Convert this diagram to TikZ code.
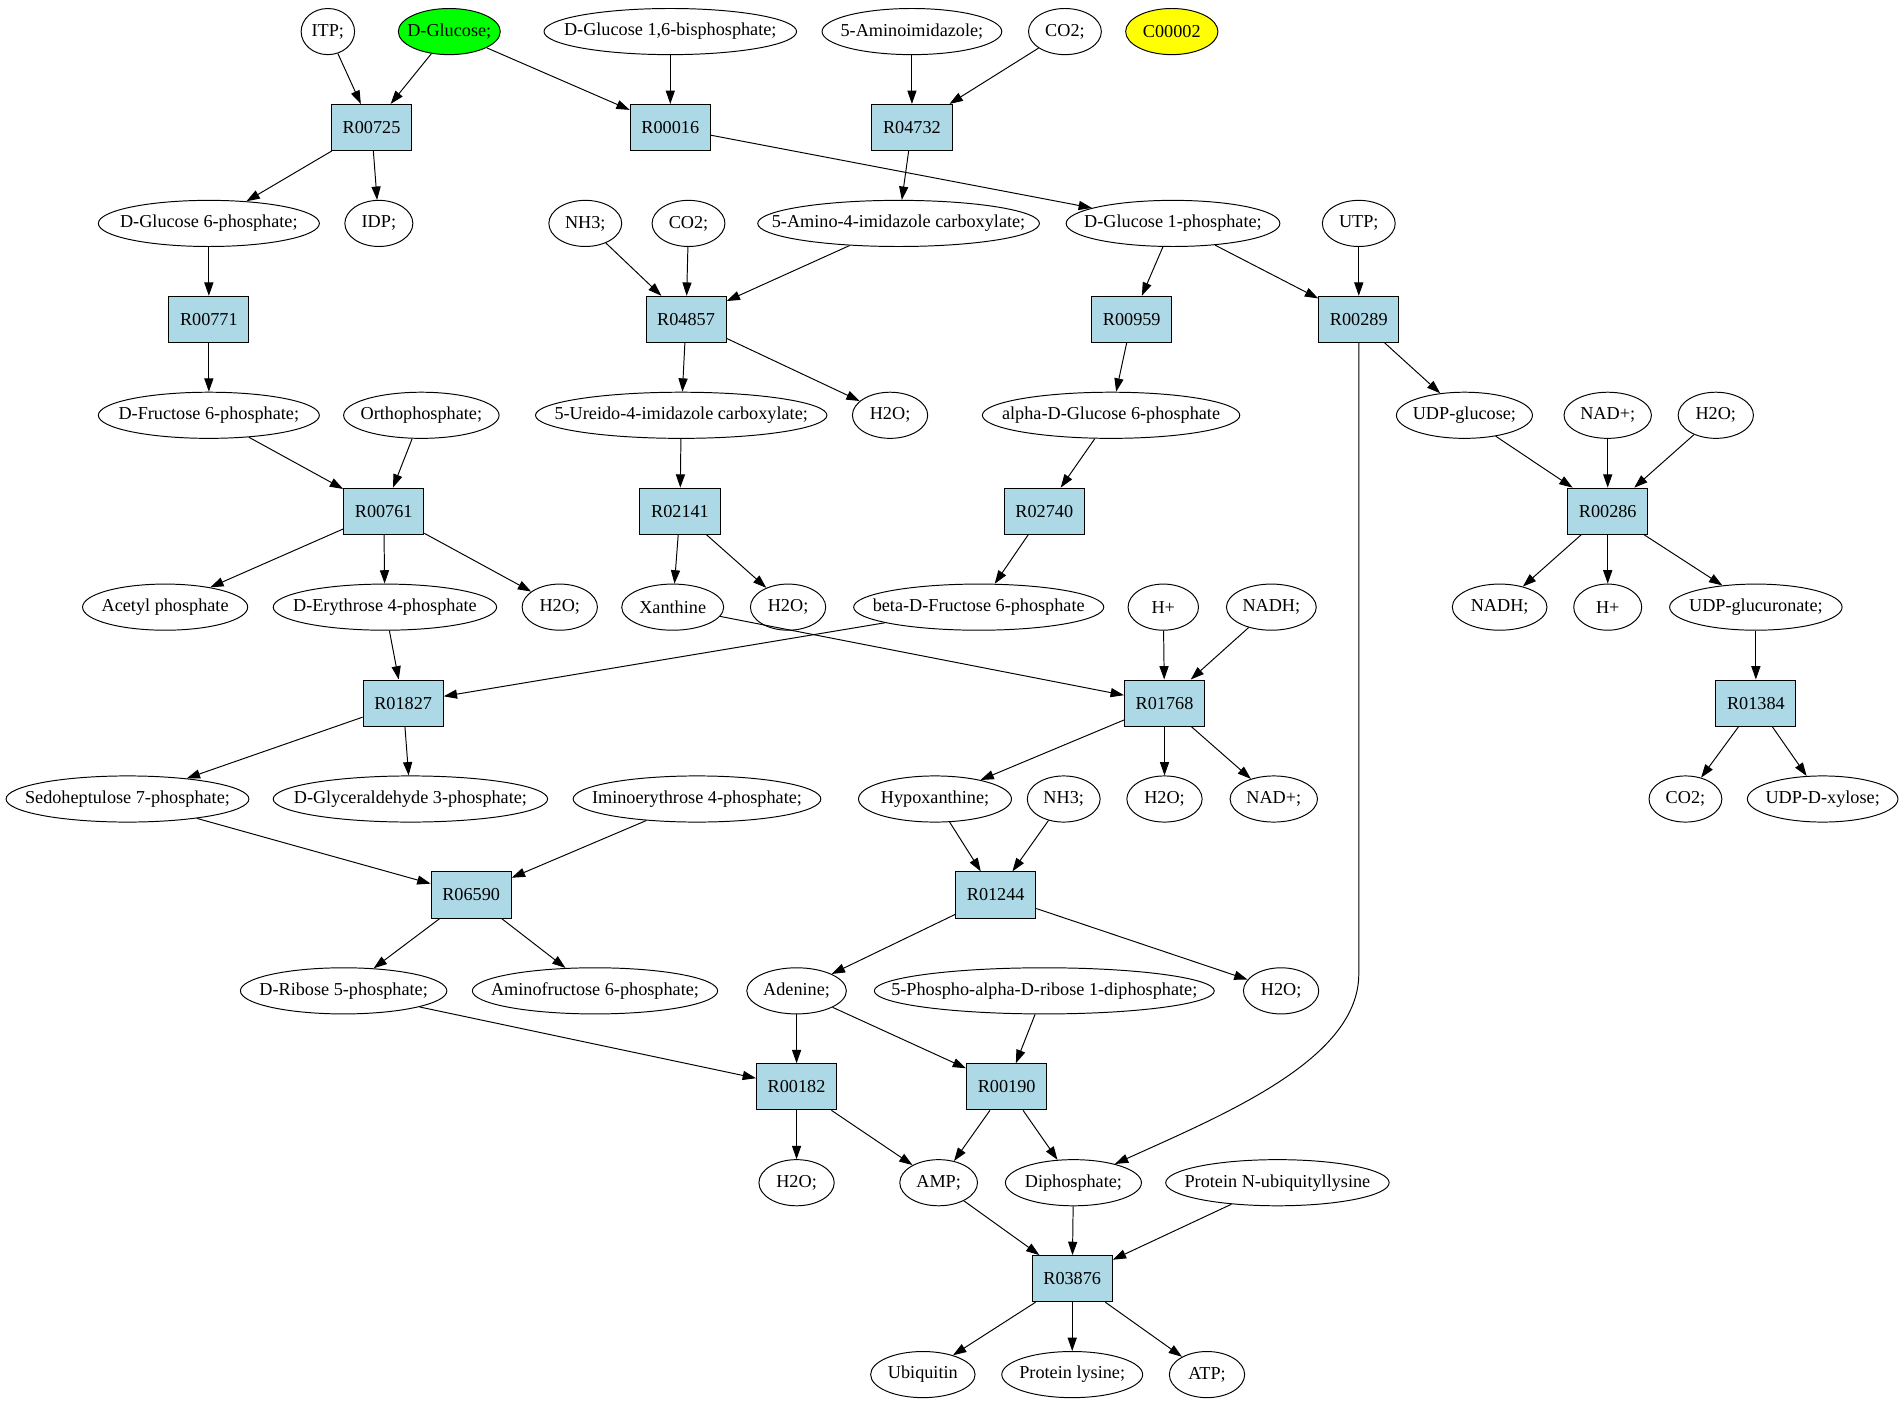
\documentclass[tikz,border=0pt]{standalone}
\usepackage{fontspec}
\setmainfont{Liberation Serif}
\usetikzlibrary{shapes.geometric,arrows.meta}
\definecolor{rxnblue}{RGB}{173,216,230}
\newcommand{\mol}[1]{\makebox[0pt]{#1}}
\begin{document}
\begin{tikzpicture}[
    x=1pt,y=1pt,
    font=\fontsize{15}{18}\selectfont,
    cpd/.style={ellipse, draw, line width=0.8pt, minimum height=38pt, inner sep=0pt},
    rxn/.style={rectangle, draw, line width=0.8pt, fill=rxnblue, minimum width=66pt, minimum height=38pt, inner sep=0pt},
    conv/.style={-{Triangle[length=11pt,width=7.5pt]}, line width=0.8pt}
    ]
	\useasboundingbox (0,2) rectangle (1568,-1153);
	% row 1
	\node [cpd, minimum width=44pt] (itp) at (270,-24) {\mol{ITP;}};
	\node [cpd, minimum width=84pt, fill={rgb,255:red,0;green,255;blue,0}] (glc) at (370,-24) {\mol{D-Glucose;}};
	\node [cpd, minimum width=208pt] (glcbp) at (552,-24) {\mol{D-Glucose 1,6-bisphosphate;}};
	\node [cpd, minimum width=148pt] (air) at (751,-24) {\mol{5-Aminoimidazole;}};
	\node [cpd, minimum width=60pt] (coa) at (877,-24) {\mol{CO2;}};
	\node [cpd, minimum width=76pt, fill={rgb,255:red,255;green,255;blue,0}] (c2) at (965,-24) {\mol{C00002}};
	% row 2
	\node [rxn] (r00725) at (306,-103) {R00725};
	\node [rxn] (r00016) at (552,-103) {R00016};
	\node [rxn] (r04732) at (751,-103) {R04732};
	% row 3
	\node [cpd, minimum width=182pt] (g6p) at (172,-182) {\mol{D-Glucose 6-phosphate;}};
	\node [cpd, minimum width=56pt] (idp) at (312,-182) {\mol{IDP;}};
	\node [cpd, minimum width=60pt] (nha) at (482,-182) {\mol{NH3;}};
	\node [cpd, minimum width=60pt] (cob) at (567,-182) {\mol{CO2;}};
	\node [cpd, minimum width=232pt] (aic) at (740,-182) {\mol{5-Amino-4-imidazole carboxylate;}};
	\node [cpd, minimum width=176pt] (g1p) at (966,-182) {\mol{D-Glucose 1-phosphate;}};
	\node [cpd, minimum width=60pt] (utp) at (1119,-182) {\mol{UTP;}};
	% row 4
	\node [rxn] (r00771) at (172,-261) {R00771};
	\node [rxn] (r04857) at (565,-261) {R04857};
	\node [rxn] (r00959) at (932,-261) {R00959};
	\node [rxn] (r00289) at (1119,-261) {R00289};
	% row 5
	\node [cpd, minimum width=182pt] (f6p) at (172,-340) {\mol{D-Fructose 6-phosphate;}};
	\node [cpd, minimum width=128pt] (pi) at (347,-340) {\mol{Orthophosphate;}};
	\node [cpd, minimum width=240pt] (uic) at (561,-340) {\mol{5-Ureido-4-imidazole carboxylate;}};
	\node [cpd, minimum width=62pt] (wa) at (733,-340) {\mol{H2O;}};
	\node [cpd, minimum width=212pt] (ag6p) at (915,-340) {\mol{alpha-D-Glucose 6-phosphate}};
	\node [cpd, minimum width=112pt] (udpg) at (1206,-340) {\mol{UDP-glucose;}};
	\node [cpd, minimum width=72pt] (nada) at (1324,-340) {\mol{NAD+;}};
	\node [cpd, minimum width=62pt] (wb) at (1413,-340) {\mol{H2O;}};
	% row 6
	\node [rxn] (r00761) at (316,-419) {R00761};
	\node [rxn] (r02141) at (560,-419) {R02141};
	\node [rxn] (r02740) at (860,-419) {R02740};
	\node [rxn] (r00286) at (1324,-419) {R00286};
	% row 7
	\node [cpd, minimum width=136pt] (acp) at (136,-498) {\mol{Acetyl phosphate}};
	\node [cpd, minimum width=184pt] (e4p) at (317,-498) {\mol{D-Erythrose 4-phosphate}};
	\node [cpd, minimum width=62pt] (wc) at (461,-498) {\mol{H2O;}};
	\node [cpd, minimum width=84pt] (xan) at (554,-498) {\mol{Xanthine}};
	\node [cpd, minimum width=62pt] (wd) at (649,-498) {\mol{H2O;}};
	\node [cpd, minimum width=206pt] (bf6p) at (806,-498) {\mol{beta-D-Fructose 6-phosphate}};
	\node [cpd, minimum width=58pt] (ha) at (958,-498) {\mol{H+}};
	\node [cpd, minimum width=74pt] (nadha) at (1047,-498) {\mol{NADH;}};
	\node [cpd, minimum width=78pt] (nadhb) at (1235,-498) {\mol{NADH;}};
	\node [cpd, minimum width=56pt] (hb) at (1324,-498) {\mol{H+}};
	\node [cpd, minimum width=142pt] (udpgl) at (1446,-498) {\mol{UDP-glucuronate;}};
	% row 8
	\node [rxn] (r01827) at (332,-577) {R01827};
	\node [rxn] (r01768) at (959,-577) {R01768};
	\node [rxn] (r01384) at (1446,-577) {R01384};
	% row 9
	\node [cpd, minimum width=200pt] (s7p) at (105,-656) {\mol{Sedoheptulose 7-phosphate;}};
	\node [cpd, minimum width=226pt] (gap) at (338,-656) {\mol{D-Glyceraldehyde 3-phosphate;}};
	\node [cpd, minimum width=204pt] (ie4p) at (574,-656) {\mol{Iminoerythrose 4-phosphate;}};
	\node [cpd, minimum width=126pt] (hyp) at (770,-656) {\mol{Hypoxanthine;}};
	\node [cpd, minimum width=60pt] (nhb) at (876,-656) {\mol{NH3;}};
	\node [cpd, minimum width=62pt] (we) at (959,-656) {\mol{H2O;}};
	\node [cpd, minimum width=72pt] (nadb) at (1049,-656) {\mol{NAD+;}};
	\node [cpd, minimum width=60pt] (coc) at (1388,-656) {\mol{CO2;}};
	\node [cpd, minimum width=124pt] (udpx) at (1501,-656) {\mol{UDP-D-xylose;}};
	% row 10
	\node [rxn] (r06590) at (388,-735) {R06590};
	\node [rxn] (r01244) at (820,-735) {R01244};
	% row 11
	\node [cpd, minimum width=170pt] (r5p) at (283,-814) {\mol{D-Ribose 5-phosphate;}};
	\node [cpd, minimum width=202pt] (af6p) at (490,-814) {\mol{Aminofructose 6-phosphate;}};
	\node [cpd, minimum width=82pt] (ade) at (656,-814) {\mol{Adenine;}};
	\node [cpd, minimum width=280pt] (prpp) at (860,-814) {\mol{5-Phospho-alpha-D-ribose 1-diphosphate;}};
	\node [cpd, minimum width=62pt] (wf) at (1055,-814) {\mol{H2O;}};
	% row 12
	\node [rxn] (r00182) at (656,-893) {R00182};
	\node [rxn] (r00190) at (829,-893) {R00190};
	% row 13
	\node [cpd, minimum width=62pt] (wg) at (656,-972) {\mol{H2O;}};
	\node [cpd, minimum width=64pt] (amp) at (773,-972) {\mol{AMP;}};
	\node [cpd, minimum width=112pt] (ppi) at (884,-972) {\mol{Diphosphate;}};
	\node [cpd, minimum width=184pt] (pnu) at (1052,-972) {\mol{Protein N-ubiquityllysine}};
	% row 14
	\node [rxn] (r03876) at (883,-1051) {R03876};
	% row 15
	\node [cpd, minimum width=86pt] (ubq) at (760,-1130) {\mol{Ubiquitin}};
	\node [cpd, minimum width=116pt] (plys) at (883,-1130) {\mol{Protein lysine;}};
	\node [cpd, minimum width=62pt] (atp) at (994,-1130) {\mol{ATP;}};
	\coordinate (bend) at (1119,-800);
	% reactions
	\foreach \a/\b in {itp/r00725, glc/r00725, glc/r00016, glcbp/r00016, air/r04732, coa/r04732,
		r00725/g6p, r00725/idp, r00016/g1p, r04732/aic,
		g6p/r00771, nha/r04857, cob/r04857, aic/r04857, g1p/r00959, g1p/r00289, utp/r00289,
		r00771/f6p, r04857/uic, r04857/wa, r00959/ag6p, r00289/udpg,
		f6p/r00761, pi/r00761, uic/r02141, ag6p/r02740, udpg/r00286, nada/r00286, wb/r00286,
		r00761/acp, r00761/e4p, r00761/wc, r02141/xan, r02141/wd, r02740/bf6p,
		r00286/nadhb, r00286/hb, r00286/udpgl,
		e4p/r01827, bf6p/r01827, xan/r01768, ha/r01768, nadha/r01768, udpgl/r01384,
		r01827/s7p, r01827/gap, r01768/hyp, r01768/we, r01768/nadb, r01384/coc, r01384/udpx,
		s7p/r06590, ie4p/r06590, hyp/r01244, nhb/r01244,
		r06590/r5p, r06590/af6p, r01244/ade, r01244/wf,
		r5p/r00182, ade/r00182, ade/r00190, prpp/r00190,
		r00182/wg, r00182/amp, r00190/amp, r00190/ppi,
		amp/r03876, ppi/r03876, pnu/r03876,
		r03876/ubq, r03876/plys, r03876/atp}
		\draw [conv] (\a) -- (\b);
	\draw [conv] (r00289) -- (bend) .. controls (1119,-870) and (1010,-915) .. (ppi);
\end{tikzpicture}
\end{document}
